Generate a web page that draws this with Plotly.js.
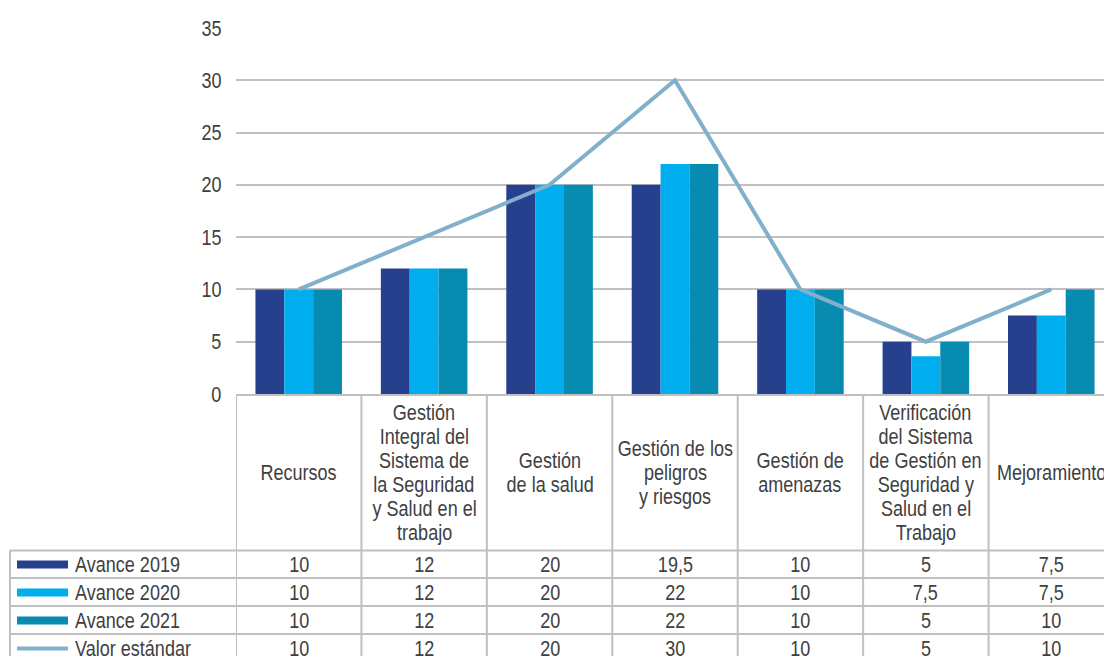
<!DOCTYPE html>
<html><head><meta charset="utf-8">
<script src="https://cdn.plot.ly/plotly-3.0.1.min.js"></script>
<style>html,body{margin:0;padding:0;overflow:hidden;background:#fff}#chart{width:1120px;height:656px}</style>
</head><body><div id="chart"></div>
<script>
// ---- data ----
const categories = ['Recursos',
  'Gestión<br>Integral del<br>Sistema de<br>la Seguridad<br>y Salud en el<br>trabajo',
  'Gestión<br>de la salud',
  'Gestión de los<br>peligros<br>y riesgos',
  'Gestión de<br>amenazas',
  'Verificación<br>del Sistema<br>de Gestión en<br>Seguridad y<br>Salud en el<br>Trabajo',
  'Mejoramiento'];
const seriesNames = ['Avance 2019', 'Avance 2020', 'Avance 2021', 'Valor estándar'];
// values as drawn by the bars / line
const avance2019 = [10, 12, 20, 20, 10, 5, 7.5];
const avance2020 = [10, 12, 20, 22, 10, 3.6, 7.5];
const avance2021 = [10, 12, 20, 22, 10, 5, 10];
const valorEstandar = [10, 15, 20, 30, 10, 5, 10];
// values as printed in the data table
const tabla2019 = ['10', '12', '20', '19,5', '10', '5', '7,5'];
const tabla2020 = ['10', '12', '20', '22', '10', '7,5', '7,5'];
const tabla2021 = ['10', '12', '20', '22', '10', '5', '10'];
const tablaEstandar = ['10', '12', '20', '30', '10', '5', '10'];
const yTickValues = [0, 5, 10, 15, 20, 25, 30, 35];

// ---- styling / layout ----
const colors = ['#26408e', '#00aeef', '#078bb1', '#80b0cc'];
const FONT = '"Liberation Sans", Arial, sans-serif';
const NARROW = 0.82;           // horizontal squeeze to mimic a narrow face
const FS = 22;
const TXT = '#404040';
const GRID = '#c0c0c0';
const W = 1120, H = 656, L = 236, R = 6, T = 28, B = 262;
const plotH = H - T - B, plotW = W - L - R, axisY = H - B;
const py = p => (axisY - p) / plotH;
const px = p => (p - L) / plotW;

const traces = [avance2019, avance2020, avance2021].map((vals, i) => ({
  type: 'bar', x: categories, y: vals, name: seriesNames[i],
  marker: {color: colors[i], line: {width: 0}}, hoverinfo: 'skip', showlegend: false
}));
traces.push({
  type: 'scatter', mode: 'lines', x: categories, y: valorEstandar, name: seriesNames[3],
  line: {color: colors[3], width: 4}, hoverinfo: 'skip', showlegend: false
});

const shapes = [];
const annotations = [];
const catTop = axisY, catBottom = 550.5;
const rowLines = [550.5, 578, 606, 634];
const rowH = 28;
const bottomPix = 680;
const font = {family: FONT, size: FS, color: TXT};

// y tick labels (as annotations so they can share the narrow look)
yTickValues.forEach(v => annotations.push({xref: 'paper', yref: 'y', x: px(223), y: v,
  text: String(v), showarrow: false, xanchor: 'right', yanchor: 'middle', font: font}));

// vertical table lines at category boundaries
for (let i = 0; i <= categories.length; i++) {
  shapes.push({type: 'line', xref: 'x', yref: 'paper', x0: i - 0.5, x1: i - 0.5,
    y0: py(catTop), y1: py(bottomPix), line: {color: GRID, width: 2}});
}
// legend column left border
shapes.push({type: 'line', xref: 'paper', yref: 'paper', x0: px(10), x1: px(10),
  y0: py(catBottom), y1: py(bottomPix), line: {color: GRID, width: 2}});
// horizontal row lines
rowLines.forEach(r => shapes.push({type: 'line', xref: 'paper', yref: 'paper',
  x0: px(10), x1: 1.02, y0: py(r), y1: py(r), line: {color: GRID, width: 2}}));

// category header labels (one annotation per line for tight line spacing)
const lineGap = 24;
const catMid = (catTop + catBottom) / 2;
categories.forEach((c, i) => {
  const lines = c.split('<br>');
  lines.forEach((ln, k) => {
    const yc = catMid - (lines.length - 1) * lineGap / 2 + k * lineGap;
    annotations.push({xref: 'x', yref: 'paper', x: i, y: py(yc), text: ln, showarrow: false,
      xanchor: 'center', yanchor: 'middle', font: font});
  });
});

// data rows
const tableRows = [tabla2019, tabla2020, tabla2021, tablaEstandar];
tableRows.forEach((row, r) => {
  const yc = rowLines[0] + rowH * r + rowH / 2;
  const th = r < 3 ? 8 : 4;
  shapes.push({type: 'rect', xref: 'paper', yref: 'paper', x0: px(17), x1: px(68),
    y0: py(yc - th / 2), y1: py(yc + th / 2), fillcolor: colors[r], line: {width: 0}});
  annotations.push({xref: 'paper', yref: 'paper', x: px(73), y: py(yc), text: seriesNames[r],
    showarrow: false, xanchor: 'left', yanchor: 'middle', font: font});
  row.forEach((v, i) => annotations.push({xref: 'x', yref: 'paper', x: i, y: py(yc), text: v,
    showarrow: false, xanchor: 'center', yanchor: 'middle', font: font}));
});

const layout = {
  width: W, height: H,
  margin: {l: L, r: R, t: T, b: B, pad: 0},
  paper_bgcolor: '#fff', plot_bgcolor: '#fff',
  barmode: 'group', bargap: 0.31, bargroupgap: 0,
  font: {family: FONT, color: TXT},
  xaxis: {type: 'category', showticklabels: false, ticks: '', showgrid: false, zeroline: false,
    showline: true, linecolor: GRID, linewidth: 2, range: [-0.5, categories.length - 0.5], fixedrange: true},
  yaxis: {range: [0, 35], tickvals: yTickValues, showticklabels: false,
    showgrid: true, gridcolor: GRID, gridwidth: 2, zeroline: false, showline: false, ticks: '', fixedrange: true},
  shapes: shapes, annotations: annotations
};

Plotly.newPlot('chart', traces, layout, {displayModeBar: false, staticPlot: true}).then(gd => {
  gd.querySelectorAll('g.annotation').forEach(g => {
    const idx = +g.getAttribute('data-index');
    const a = layout.annotations[idx];
    const t = g.querySelector('text.annotation-text');
    if (!t || !a) return;
    const origin = a.xanchor === 'left' ? 'left center' : a.xanchor === 'right' ? 'right center' : 'center center';
    t.style.transformBox = 'fill-box';
    t.style.transformOrigin = origin;
    t.style.transform = 'scaleX(' + NARROW + ')';
  });
});
</script>
</body></html>
